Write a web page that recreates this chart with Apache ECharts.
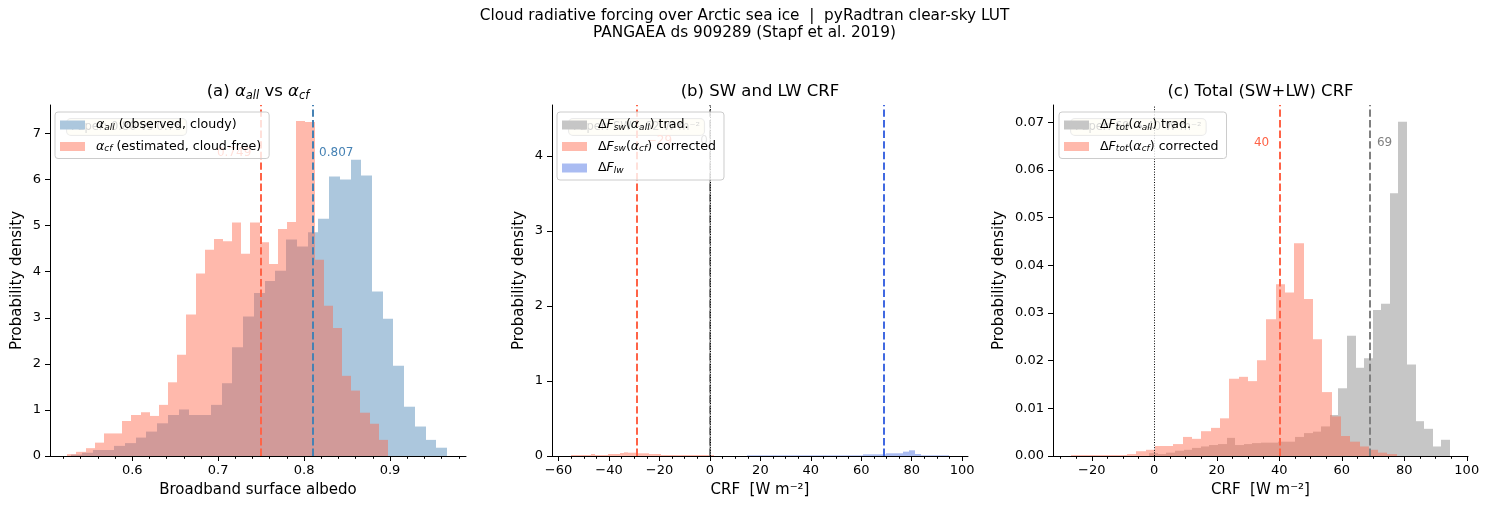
<!DOCTYPE html>
<html>
<head>
<meta charset="utf-8">
<script src="https://cdn.jsdelivr.net/npm/echarts@6/dist/echarts.min.js"></script>
<style>
  html, body { margin: 0; padding: 0; background: #fff; }
  #chart { width: 1489px; height: 515px; }
</style>
</head>
<body>
<div id="chart"></div>
<script>
// ---- (a) broadband albedo, 35 bins each (density) ----
var albAllStart = 0.529, albAllWidth = 0.0125;
var albAllDens = [0.03, 0.07, 0.13, 0.13, 0.22, 0.28, 0.40, 0.53, 0.71, 0.89, 1.01, 0.89, 0.89, 1.11, 1.58,
  2.36, 3.03, 3.54, 3.80, 4.02, 4.70, 4.55, 4.86, 5.15, 6.07, 6.00, 6.43, 6.09, 3.57, 2.98, 1.96, 1.07, 0.64, 0.35, 0.18];
var albCfStart = 0.5244, albCfWidth = 0.01066;
var albCfDens = [0.04, 0.09, 0.17, 0.29, 0.49, 0.49, 0.76, 0.89, 0.95, 0.87, 1.11, 1.60, 2.20, 3.07, 3.96,
  4.48, 4.71, 4.66, 5.07, 4.39, 5.07, 4.64, 4.17, 4.93, 5.08, 7.27, 7.25, 4.26, 3.26, 2.78, 1.74, 1.42, 0.94, 0.70, 0.35];

// ---- (b) SW and LW CRF ----
var swAllStart = -0.25, swAllWidth = 0.5;
var swAllDens = [4.46];
var swCfStart = -55.1, swCfWidth = 1.62;
var swCfDens = [0.013, 0.013, 0.013, 0.013, 0.013, 0.027, 0.013, 0.013, 0.013, 0.027, 0.027, 0.027, 0.040, 0.049, 0.044,
  0.044, 0.036, 0.036, 0.036, 0.027, 0.027, 0.027, 0.013, 0.013, 0.013, 0.013, 0.013, 0.013, 0.013, 0.013, 0.013, 0.013, 0.013, 0.013, 0.013];
var lwStart = 14.8, lwWidth = 2.29;
var lwDens = [0.009, 0.009, 0.009, 0.009, 0.009, 0.009, 0.009, 0.009, 0.009, 0.009, 0.009, 0.009, 0.009, 0.009, 0.009,
  0.009, 0.009, 0.009, 0.009, 0.009, 0.022, 0.022, 0.022, 0.022, 0.036, 0.036, 0.036, 0.058, 0.076, 0.027, 0.009, 0.009, 0.009, 0.009, 0.009];

// ---- (c) total CRF ----
var totAllStart = -1.6, totAllWidth = 2.75;
var totAllDens = [0.0006, 0.0004, 0.0007, 0.0011, 0.0013, 0.0017, 0.0020, 0.0023, 0.0025, 0.0038, 0.0023, 0.0025, 0.0027, 0.0028, 0.0028,
  0.0030, 0.0030, 0.0040, 0.0048, 0.0051, 0.0062, 0.0086, 0.0142, 0.0252, 0.0185, 0.0205, 0.0306, 0.0319, 0.0551, 0.0701, 0.0192, 0.0073, 0.0057, 0.0020, 0.0034];
var totCfStart = -26.6, totCfWidth = 2.977;
var totCfDens = [0.0002, 0.0002, 0.0002, 0.0002, 0.0002, 0.0002, 0.0004, 0.0010, 0.0013, 0.0021, 0.0021, 0.0025, 0.0040, 0.0036, 0.0052,
  0.0059, 0.0079, 0.0162, 0.0166, 0.0157, 0.0201, 0.0287, 0.0360, 0.0343, 0.0446, 0.0329, 0.0245, 0.0134, 0.0083, 0.0042, 0.0030, 0.0020, 0.0013, 0.0007, 0.0004];

// medians / reference lines
var albMedCf = 0.749, albMedAll = 0.807;
var swMedCf = -29, swMedAll = 0, lwMed = 69;
var totMedCf = 40, totMedAll = 69;

// ticks
var albTicks = [0.6, 0.7, 0.8, 0.9];
var crfTicksB = [-60, -40, -20, 0, 20, 40, 60, 80, 100];
var crfTicksC = [-20, 0, 20, 40, 60, 80, 100];
var yTicksA = [0, 1, 2, 3, 4, 5, 6, 7];
var yTicksB = [0, 1, 2, 3, 4];
var yTicksC = [0, 0.01, 0.02, 0.03, 0.04, 0.05, 0.06, 0.07];

var STEEL = '#4682b4', TOMATO = '#ff6347', GRAY = '#808080', ROYAL = '#4169e1';
var FONT = 'DejaVu Sans';

function bins(start, width, dens) {
  return dens.map(function (d, i) { return [start + i * width, start + (i + 1) * width, d]; });
}
function minors(lo, hi, step) {
  var out = [];
  for (var v = lo; v <= hi + 1e-9; v += step) out.push(+v.toFixed(4));
  return out;
}
function minusFmt(v) { return v < 0 ? '\u2212' + (-v) : '' + v; }

function hist(name, gi, data, color) {
  return {
    name: name, type: 'custom', xAxisIndex: gi * 2, yAxisIndex: gi,
    data: data, encode: { x: [0, 1], y: 2 },
    itemStyle: { color: color },
    renderItem: function (params, api) {
      var a = api.coord([api.value(0), api.value(2)]);
      var b = api.coord([api.value(1), 0]);
      // snap to whole pixels so neighbouring bars do not leave seams
      var x0 = Math.round(a[0]), x1 = Math.round(b[0]);
      if (x1 - x0 < 1) x1 = x0 + 1;
      return {
        type: 'rect',
        shape: { x: x0, y: a[1], width: x1 - x0, height: b[1] - a[1] },
        style: { fill: color, opacity: 0.45 }
      };
    }
  };
}

function vline(v, color, w, dash) {
  return { xAxis: v, lineStyle: { color: color, width: w, type: dash } };
}
var DASH = [7.4, 3.2], DOT = [1, 1.6];

function marks(gi, lines, labels) {
  return {
    type: 'line', xAxisIndex: gi * 2, yAxisIndex: gi, data: [], silent: true, z: 3,
    markLine: { symbol: ['none', 'none'], silent: true, z: 3, label: { show: false }, data: lines },
    markPoint: {
      symbol: 'circle', symbolSize: 0, silent: true, z: 3,
      data: labels.map(function (l) {
        return {
          coord: [l[0], l[1]],
          label: { show: true, formatter: l[2], position: l[4], distance: l[5], color: l[3], fontSize: 12, fontFamily: FONT }
        };
      })
    }
  };
}

var grids = [
  { left: 50, top: 105, width: 416, height: 351 },
  { left: 552, top: 105, width: 416, height: 351 },
  { left: 1053, top: 105, width: 415, height: 351 }
];

function xMain(gi, min, max, ticks, fmt, name) {
  return {
    type: 'value', gridIndex: gi, min: min, max: max, position: 'bottom',
    axisLine: { onZero: false, lineStyle: { color: '#000', width: 1 } },
    axisTick: { customValues: ticks, length: 5, lineStyle: { color: '#000' } },
    axisLabel: { customValues: ticks, formatter: fmt, color: '#000', fontSize: 13, fontFamily: FONT, margin: 8 },
    splitLine: { show: false },
    name: name, nameLocation: 'middle', nameGap: 27,
    nameTextStyle: { color: '#000', fontSize: 15, fontFamily: FONT }
  };
}
function xMinor(gi, min, max, ticks) {
  return {
    type: 'value', gridIndex: gi, min: min, max: max, position: 'bottom',
    axisLine: { show: false, onZero: false },
    axisTick: { customValues: ticks, length: 2.8, lineStyle: { color: '#000' } },
    axisLabel: { show: false }, splitLine: { show: false }
  };
}
function yAx(gi, max, ticks, fmt, gap) {
  return {
    type: 'value', gridIndex: gi, min: 0, max: max,
    axisLine: { show: true, onZero: false, lineStyle: { color: '#000', width: 1 } },
    axisTick: { show: true, customValues: ticks, length: 5, lineStyle: { color: '#000' } },
    axisLabel: { customValues: ticks, formatter: fmt, color: '#000', fontSize: 13, fontFamily: FONT, margin: 9 },
    splitLine: { show: false },
    name: 'Probability density', nameLocation: 'middle', nameGap: gap,
    nameTextStyle: { color: '#000', fontSize: 15, fontFamily: FONT }
  };
}

var legendLabels = {
  'a_all': '{i|α}{s|all} (observed, cloudy)',
  'a_cf': '{i|α}{s|cf} (estimated, cloud-free)',
  'sw_all': 'Δ{i|F}{s|sw}({i|α}{s|all}) trad.',
  'sw_cf': 'Δ{i|F}{s|sw}({i|α}{s|cf}) corrected',
  'lw': 'Δ{i|F}{s|lw}',
  'tot_all': 'Δ{i|F}{s|tot}({i|α}{s|all}) trad.',
  'tot_cf': 'Δ{i|F}{s|tot}({i|α}{s|cf}) corrected'
};
function legend(left, items) {
  return {
    orient: 'vertical', left: left, top: 112, selectedMode: false, z: 4,
    itemWidth: 25, itemHeight: 9, itemGap: 7.5, padding: [6, 8, 5, 5],
    backgroundColor: 'rgba(255,255,255,0.8)', borderColor: '#cccccc', borderWidth: 1, borderRadius: 3,
    data: items.map(function (it) { return { name: it[0], icon: 'rect', itemStyle: { color: it[1], opacity: 1 } }; }),
    formatter: function (n) { return legendLabels[n]; },
    textStyle: { color: '#000', fontSize: 12.6, fontFamily: FONT, lineHeight: 14, padding: [0, 0, 0, 6],
      rich: { i: { fontStyle: 'italic', fontFamily: FONT, fontSize: 12.6 },
              s: { fontStyle: 'italic', fontFamily: FONT, fontSize: 9, verticalAlign: 'bottom', lineHeight: 10 } } }
  };
}
function panelTitle(cx, text) {
  return {
    text: text, left: cx, top: 82, padding: 0, textAlign: 'center',
    textStyle: { color: '#000', fontSize: 16.5, fontWeight: 'normal', fontFamily: FONT, lineHeight: 20,
      rich: { i: { fontStyle: 'italic', fontFamily: FONT, fontSize: 16.5, lineHeight: 20 },
              s: { fontStyle: 'italic', fontFamily: FONT, fontSize: 11.5, verticalAlign: 'bottom', lineHeight: 12 } } }
  };
}
function paperBox(left, text) {
  return {
    type: 'text', left: left, top: 118, z: 1,
    style: { text: text, fontSize: 11.5, fontFamily: FONT, fill: '#333',
      backgroundColor: 'rgba(255,250,215,0.9)', borderColor: '#999', borderWidth: 1, borderRadius: 4, padding: [2, 4] }
  };
}

var option = {
  animation: false,
  backgroundColor: '#fff',
  grid: grids,
  title: [
    { text: 'Cloud radiative forcing over Arctic sea ice  |  pyRadtran clear-sky LUT\nPANGAEA ds 909289 (Stapf et al. 2019)',
      left: 744.5, top: 8, padding: 0, textAlign: 'center',
      textStyle: { color: '#000', fontSize: 15.3, fontWeight: 'normal', fontFamily: FONT, lineHeight: 17 } },
    panelTitle(258, '(a) {i|α}{s|all} vs {i|α}{s|cf}'),
    panelTitle(760, '(b) SW and LW CRF'),
    panelTitle(1260.5, '(c) Total (SW+LW) CRF')
  ],
  legend: [
    legend(55, [['a_all', '#acc7dd'], ['a_cf', '#ffb9ac']]),
    legend(557, [['sw_all', '#c6c6c6'], ['sw_cf', '#ffb9ac'], ['lw', '#aabcf2']]),
    legend(1059, [['tot_all', '#c6c6c6'], ['tot_cf', '#ffb9ac']])
  ],
  graphic: [
    paperBox(66, 'Paper: 0.80 vs 0.75'),
    paperBox(568, 'Paper: SW \u221262 W m\u207b\u00b2'),
    paperBox(1070, 'Paper: 69 \u2192 40 W m\u207b\u00b2')
  ],
  xAxis: [
    xMain(0, 0.5043, 0.9884, albTicks, function (v) { return v.toFixed(1); }, 'Broadband surface albedo'),
    xMinor(0, 0.5043, 0.9884, minors(0.52, 0.98, 0.02)),
    xMain(1, -62.6, 102.3, crfTicksB, minusFmt, 'CRF  [W m\u207b\u00b2]'),
    xMinor(1, -62.6, 102.3, minors(-60, 100, 5)),
    xMain(2, -32.4, 100.4, crfTicksC, minusFmt, 'CRF  [W m\u207b\u00b2]'),
    xMinor(2, -32.4, 100.4, minors(-30, 100, 5))
  ],
  yAxis: [
    yAx(0, 7.62, yTicksA, function (v) { return '' + v; }, 25),
    yAx(1, 4.68, yTicksB, function (v) { return '' + v; }, 25),
    yAx(2, 0.0736, yTicksC, function (v) { return v.toFixed(2); }, 46)
  ],
  series: [
    hist('a_all', 0, bins(albAllStart, albAllWidth, albAllDens), STEEL),
    hist('a_cf', 0, bins(albCfStart, albCfWidth, albCfDens), TOMATO),
    marks(0,
      [vline(albMedCf, TOMATO, 2, DASH), vline(albMedAll, STEEL, 2, DASH)],
      [[albMedCf, 6.57, '0.749', TOMATO, 'left', 9], [albMedAll, 6.57, '0.807', STEEL, 'right', 9]]),

    hist('sw_all', 1, bins(swAllStart, swAllWidth, swAllDens), GRAY),
    hist('sw_cf', 1, bins(swCfStart, swCfWidth, swCfDens), TOMATO),
    hist('lw', 1, bins(lwStart, lwWidth, lwDens), ROYAL),
    marks(1,
      [vline(swMedCf, TOMATO, 2, DASH), vline(swMedAll, GRAY, 2, DASH), vline(lwMed, ROYAL, 2, DASH), vline(0, '#000', 1, DOT)],
      [[swMedCf, 4.2, '\u221229', TOMATO, 'right', 10], [swMedAll, 4.2, '0', GRAY, 'left', 2]]),

    hist('tot_all', 2, bins(totAllStart, totAllWidth, totAllDens), GRAY),
    hist('tot_cf', 2, bins(totCfStart, totCfWidth, totCfDens), TOMATO),
    marks(2,
      [vline(0, '#000', 1, DOT), vline(totMedCf, TOMATO, 2, DASH), vline(totMedAll, GRAY, 2, DASH)],
      [[totMedCf, 0.0657, '40', TOMATO, 'left', 10], [totMedAll, 0.0657, '69', GRAY, 'right', 7]])
  ]
};

var chart = echarts.init(document.getElementById('chart'));
chart.setOption(option);
</script>
</body>
</html>
